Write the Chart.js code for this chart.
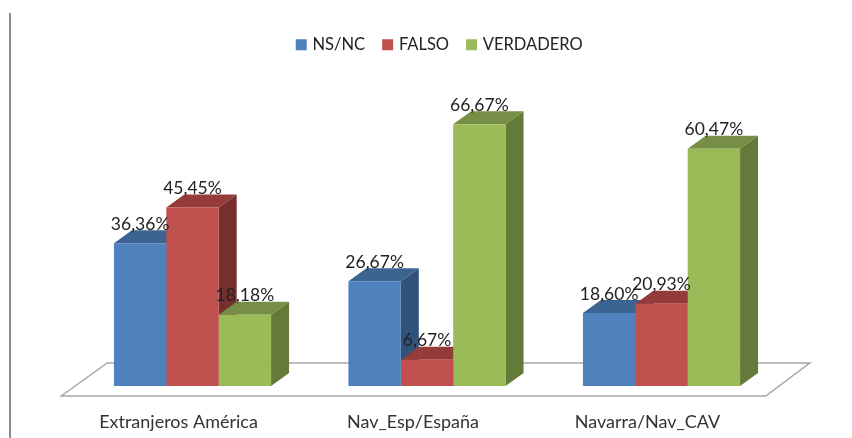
<!DOCTYPE html>
<html><head><meta charset="utf-8">
<style>html,body{margin:0;padding:0;background:#fff}canvas{display:block}</style>
<script src="https://cdn.jsdelivr.net/npm/chart.js@4"></script>
</head><body><canvas id="c" width="852" height="438"></canvas>
<script>
const categories = ['Extranjeros América', 'Nav_Esp/España', 'Navarra/Nav_CAV'];
const nsnc = [36.36, 26.67, 18.60];
const falso = [45.45, 6.67, 20.93];
const verdadero = [18.18, 66.67, 60.47];
const FONT = 'Lato, sans-serif';
const DX = 18, DY = 13;
const tops = ['#3B6491', '#953B39', '#768E45'];
const sides = ['#31527A', '#772F2D', '#637A38'];
const fronts = ['#4F81BD', '#C0504D', '#9BBB59'];

const depth = {
  id: 'depth',
  beforeDatasetsDraw(chart) {
    const {left, right, bottom} = chart.chartArea, ctx = chart.ctx;
    ctx.save();
    ctx.strokeStyle = '#A6A6A6'; ctx.lineWidth = 1.5;
    ctx.beginPath();
    ctx.moveTo(left - 14, bottom + 10);
    ctx.lineTo(left + 32, bottom - 23);
    ctx.lineTo(right + 31, bottom - 23);
    ctx.lineTo(right - 13, bottom + 10);
    ctx.closePath(); ctx.stroke();
    ctx.strokeStyle = '#8C8C8C'; ctx.lineWidth = 2;
    ctx.beginPath(); ctx.moveTo(10, 13); ctx.lineTo(10, 438); ctx.stroke();
    chart.data.datasets.forEach((ds, i) => {
      chart.getDatasetMeta(i).data.forEach(b => {
        const l = b.x - b.width / 2, r = b.x + b.width / 2, t = b.y, base = b.base;
        ctx.fillStyle = sides[i];
        ctx.beginPath();
        ctx.moveTo(r, t); ctx.lineTo(r + DX, t - DY); ctx.lineTo(r + DX, base - DY); ctx.lineTo(r, base);
        ctx.closePath(); ctx.fill();
        ctx.fillStyle = tops[i];
        ctx.beginPath();
        ctx.moveTo(l, t); ctx.lineTo(l + DX, t - DY); ctx.lineTo(r + DX, t - DY); ctx.lineTo(r, t);
        ctx.closePath(); ctx.fill();
      });
    });
    ctx.restore();
  },
  afterDatasetsDraw(chart) {
    const ctx = chart.ctx;
    ctx.save();
    ctx.font = '17.5px ' + FONT;
    ctx.fillStyle = '#222';
    ctx.textAlign = 'center'; ctx.textBaseline = 'middle';
    chart.data.datasets.forEach((ds, i) => {
      chart.getDatasetMeta(i).data.forEach((b, j) => {
        ctx.fillText(ds.data[j].toFixed(2).replace('.', ',') + '%', b.x, b.y - 19);
      });
    });
    ctx.restore();
  },
  afterLayout(chart) {
    chart.legend.left += 13.5; chart.legend.right += 13.5;
  }
};

new Chart(document.getElementById('c'), {
  type: 'bar',
  data: {
    labels: categories,
    datasets: [
      {label: 'NS/NC', data: nsnc, backgroundColor: fronts[0]},
      {label: 'FALSO', data: falso, backgroundColor: fronts[1]},
      {label: 'VERDADERO', data: verdadero, backgroundColor: fronts[2]}
    ]
  },
  options: {
    responsive: false, animation: false,
    layout: {padding: {left: 75.25, right: 73.25, top: 17, bottom: 0}},
    datasets: {bar: {categoryPercentage: 0.67, barPercentage: 1}},
    plugins: {
      tooltip: {enabled: false},
      legend: {
        position: 'top',
        labels: {
          color: '#222', padding: 19.5, boxWidth: 6, boxHeight: 6,
          font: {family: FONT, size: 16.5},
          generateLabels: c => c.data.datasets.map((d, i) => ({
            text: d.label, fillStyle: fronts[i], strokeStyle: fronts[i], lineWidth: 5,
            datasetIndex: i, fontColor: '#222'
          }))
        }
      }
    },
    scales: {
      x: {
        grid: {display: false}, border: {display: false},
        ticks: {color: '#333', font: {family: FONT, size: 18}, padding: 17, labelOffset: -14, maxRotation: 0},
        afterFit(s) { s.height = 52; }
      },
      y: {display: false, min: 0, max: 82.3}
    }
  },
  plugins: [depth]
});
</script></body></html>
